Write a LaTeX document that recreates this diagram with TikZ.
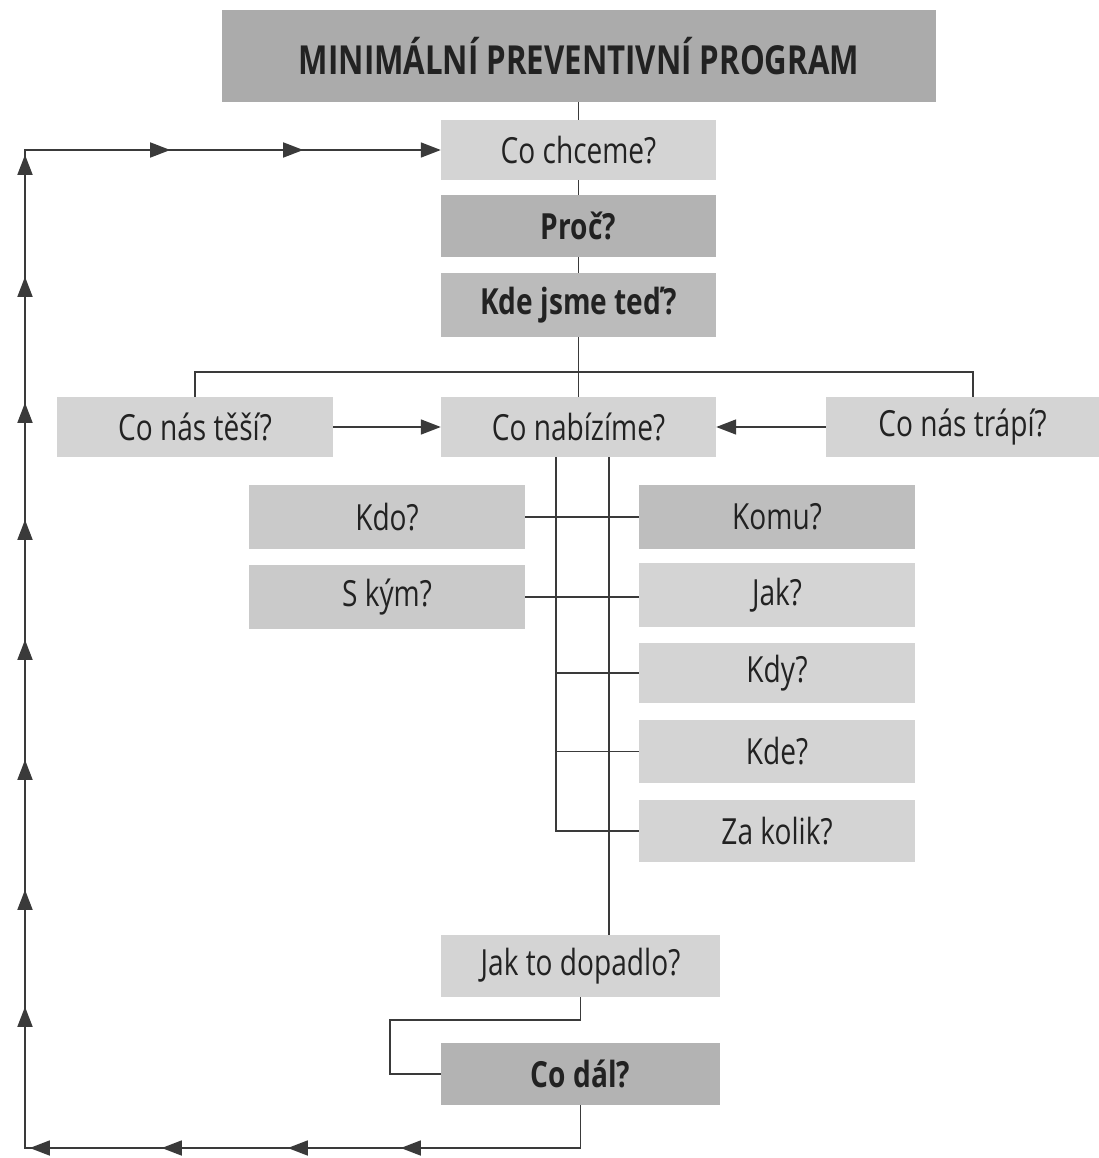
\documentclass[tikz,border=0pt]{standalone}
\usepackage{fontspec}
\setmainfont{Open Sans}[FakeStretch=0.78]
\usetikzlibrary{arrows.meta,decorations.markings,calc}
\definecolor{boxlight}{HTML}{D4D4D4}
\definecolor{boxmid}{HTML}{CACACA}
\definecolor{boxdark}{HTML}{B3B3B3}
\definecolor{boxtitle}{HTML}{ABABAB}
\definecolor{linec}{HTML}{3A3A3A}
\definecolor{textc}{HTML}{222222}
\begin{document}
\begin{tikzpicture}[x=1pt,y=-1pt,
  qbox/.style={rectangle, inner sep=0pt, minimum width=275pt, minimum height=62pt,
    text=textc, font=\fontsize{36}{40}\selectfont},
  light/.style={qbox, fill=boxlight},
  mid/.style={qbox, fill=boxmid},
  dark/.style={qbox, fill=boxdark},
  boldt/.style={font=\fontsize{36}{40}\selectfont\bfseries},
  conn/.style={draw=linec, line width=1.6pt},
  tip/.style={-{Triangle[length=20pt,width=15pt]}},
  loopline/.style={conn, postaction={decorate}, decoration={markings,
    mark=at position 222.5pt with {\arrow{Triangle[length=20pt,width=15pt]}},
    mark=at position 335.5pt with {\arrow{Triangle[length=20pt,width=15pt]}},
    mark=at position 461.5pt with {\arrow{Triangle[length=20pt,width=15pt]}},
    mark=at position 593.5pt with {\arrow{Triangle[length=20pt,width=15pt]}},
    mark=at position 739.5pt with {\arrow{Triangle[length=20pt,width=15pt]}},
    mark=at position 856.5pt with {\arrow{Triangle[length=20pt,width=15pt]}},
    mark=at position 986.5pt with {\arrow{Triangle[length=20pt,width=15pt]}},
    mark=at position 1106.5pt with {\arrow{Triangle[length=20pt,width=15pt]}},
    mark=at position 1226.5pt with {\arrow{Triangle[length=20pt,width=15pt]}},
    mark=at position 1343.5pt with {\arrow{Triangle[length=20pt,width=15pt]}},
    mark=at position 1469.5pt with {\arrow{Triangle[length=20pt,width=15pt]}},
    mark=at position 1591.5pt with {\arrow{Triangle[length=20pt,width=15pt]}},
    mark=at position 1741.5pt with {\arrow{Triangle[length=20pt,width=15pt]}},
    mark=at position 1874.5pt with {\arrow{Triangle[length=20pt,width=15pt]}}}}
]
\fill[white] (0,0) rectangle (1099,1158);
\useasboundingbox (0,0) rectangle (1099,1158);

% nodes
\node[qbox, fill=boxtitle, minimum width=714pt, minimum height=92pt, font=\fontsize{40}{44}\selectfont\bfseries] (title) at (579,56) {MINIMÁLNÍ PREVENTIVNÍ PROGRAM};
\node[light, minimum height=60pt] (chceme) at (578.5,150) {Co chceme?};
\node[dark, boldt] (proc) at (578.5,226) {Proč?};
\node[dark, fill=boxdark!90!white, minimum height=64pt, boldt] (kde) at (578.5,305) {Kde jsme teď?};
\node[light, minimum width=276pt, minimum height=60pt] (tesi) at (195,427) {Co nás těší?};
\node[light, minimum height=60pt] (nabizime) at (578.5,427) {Co nabízíme?};
\node[light, minimum width=273pt, minimum height=60pt] (trapi) at (962.5,427) {Co nás trápí?};
\node[mid, minimum width=276pt, minimum height=64pt] (kdo) at (387,517) {Kdo?};
\node[dark, fill=boxdark!85!white, minimum width=276pt, minimum height=64pt] (komu) at (777,517) {Komu?};
\node[mid, minimum width=276pt, minimum height=64pt] (skym) at (387,597) {S kým?};
\node[light, minimum width=276pt, minimum height=64pt] (jak) at (777,595) {Jak?};
\node[light, minimum width=276pt, minimum height=60pt] (kdy) at (777,673) {Kdy?};
\node[light, minimum width=276pt, minimum height=63pt] (kdeq) at (777,751.5) {Kde?};
\node[light, minimum width=276pt, minimum height=62pt] (zakolik) at (777,831) {Za kolik?};
\node[light, minimum width=279pt, minimum height=62pt] (dopadlo) at (580.5,966) {Jak to dopadlo?};
\node[dark, minimum width=279pt, minimum height=62pt, boldt] (codal) at (580.5,1074) {Co dál?};

% helper coordinates
\coordinate (bus) at (580,372);
\coordinate (busR) at (973,372);
\coordinate (trapiTop) at (973,397);
\coordinate (vA) at ($(nabizime.south)+(-22.5,0)$);
\coordinate (vB) at ($(nabizime.south)+(30.5,0)$);
\coordinate (loopC) at (390,1020);
\coordinate (BR) at (580.5,1148);
\coordinate (BL) at (25,1148);
\coordinate (TL) at (25,150);

% vertical spine
\draw[conn] (title.south -| chceme.north) -- (chceme.north);
\draw[conn] (chceme.south) -- (proc.north);
\draw[conn] (proc.south) -- (kde.north);
\draw[conn] (kde.south) -- (nabizime.north);
\draw[conn] (tesi.north) |- (bus) -- (busR) -- (trapiTop);

% side arrows
\draw[conn, tip] (tesi.east) -- (nabizime.west);
\draw[conn, tip] (trapi.west) -- (nabizime.east);

% branches
\draw[conn] (vA) |- (zakolik.west);
\draw[conn] (vB) -- (vB |- dopadlo.north);
\draw[conn] (kdo.east) -- (komu.west);
\draw[conn] (skym.east) -- (skym.east -| jak.west);
\draw[conn] (vA |- kdy.west) -- (kdy.west);
\draw[conn] (vA |- kdeq.west) -- (kdeq.west);

% bottom loop
\draw[conn] (dopadlo.south) |- (loopC) |- (codal.west);
\draw[loopline, tip] (codal.south) -- (BR) -- (BL) -- (TL) -- (chceme.west);
\end{tikzpicture}
\end{document}
